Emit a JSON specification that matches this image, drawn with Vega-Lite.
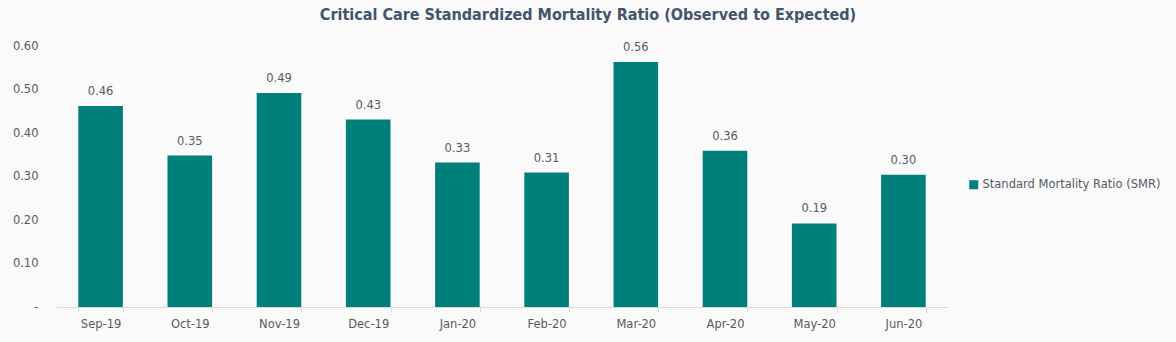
{
  "$schema": "https://vega.github.io/schema/vega-lite/v6.json",
  "width": 892,
  "height": 261,
  "autosize": "none",
  "padding": {"left": 56, "top": 46, "right": 228, "bottom": 35},
  "background": "#fafafb",
  "config": {"view": {"stroke": null}},
  "title": {
    "text": "Critical Care Standardized Mortality Ratio (Observed to Expected)",
    "font": "DejaVu Sans Condensed",
    "fontSize": 16,
    "fontWeight": "bold",
    "color": "#44546a",
    "anchor": "middle",
    "dx": 86,
    "offset": 17
  },
  "data": {
    "values": [
      {"month": "Sep-19", "smr": 0.462, "series": "Standard Mortality Ratio (SMR)"},
      {"month": "Oct-19", "smr": 0.348, "series": "Standard Mortality Ratio (SMR)"},
      {"month": "Nov-19", "smr": 0.492, "series": "Standard Mortality Ratio (SMR)"},
      {"month": "Dec-19", "smr": 0.431, "series": "Standard Mortality Ratio (SMR)"},
      {"month": "Jan-20", "smr": 0.332, "series": "Standard Mortality Ratio (SMR)"},
      {"month": "Feb-20", "smr": 0.309, "series": "Standard Mortality Ratio (SMR)"},
      {"month": "Mar-20", "smr": 0.563, "series": "Standard Mortality Ratio (SMR)"},
      {"month": "Apr-20", "smr": 0.359, "series": "Standard Mortality Ratio (SMR)"},
      {"month": "May-20", "smr": 0.192, "series": "Standard Mortality Ratio (SMR)"},
      {"month": "Jun-20", "smr": 0.304, "series": "Standard Mortality Ratio (SMR)"}
    ]
  },
  "encoding": {
    "x": {
      "field": "month",
      "type": "ordinal",
      "sort": null,
      "scale": {"paddingInner": 0.5, "paddingOuter": 0.25},
      "axis": {
        "title": null,
        "labelAngle": 0,
        "labelFont": "DejaVu Sans",
        "labelFontSize": 11.5,
        "labelColor": "#565a64",
        "labelPadding": 6,
        "domainColor": "#d9d9d9",
        "tickColor": "#d9d9d9",
        "tickSize": 5,
        "tickBand": "extent",
        "grid": false
      }
    },
    "y": {
      "field": "smr",
      "type": "quantitative",
      "scale": {"domain": [0, 0.6]},
      "axis": {
        "title": null,
        "values": [0, 0.1, 0.2, 0.3, 0.4, 0.5, 0.6],
        "labelExpr": "datum.value == 0 ? '-  ' : format(datum.value, '.2f')",
        "labelFont": "DejaVu Sans",
        "labelFontSize": 11.5,
        "labelColor": "#565a64",
        "labelPadding": 18,
        "domain": false,
        "ticks": false,
        "grid": false
      }
    }
  },
  "layer": [
    {
      "mark": {"type": "bar"},
      "encoding": {
        "color": {
          "field": "series",
          "type": "nominal",
          "scale": {"range": ["#007f7b"]},
          "legend": {
            "title": null,
            "orient": "none",
            "legendX": 912,
            "legendY": 133,
            "symbolType": "square",
            "symbolSize": 81,
            "symbolStrokeWidth": 0,
            "labelFont": "DejaVu Sans",
            "labelFontSize": 11.5,
            "labelColor": "#565a64",
            "labelOffset": 3,
            "labelLimit": 300
          }
        }
      }
    },
    {
      "mark": {"type": "text", "dy": -14, "font": "DejaVu Sans", "fontSize": 11.5, "color": "#565a64"},
      "encoding": {
        "text": {"field": "smr", "type": "quantitative", "format": ".2f"}
      }
    }
  ]
}
